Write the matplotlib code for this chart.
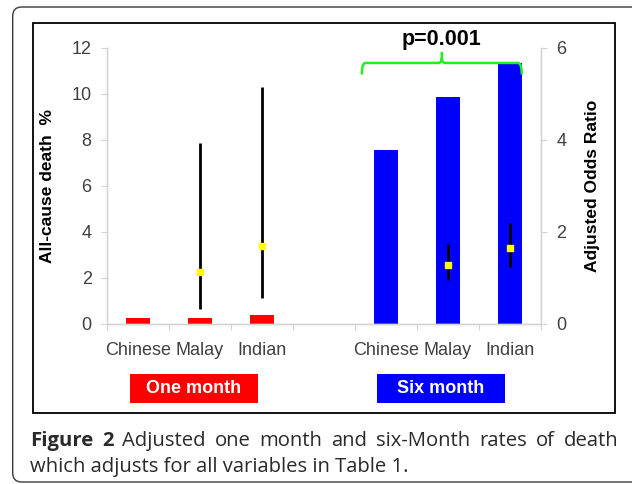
"""Adjusted one-month and six-month death rates by ethnic group (Figure 2 recreation)."""
import numpy as np
import matplotlib
matplotlib.use("Agg")
import matplotlib.pyplot as plt
from matplotlib.patches import Rectangle, FancyBboxPatch, PathPatch
from matplotlib.path import Path
from matplotlib.transforms import blended_transform_factory

plt.rcParams["font.family"] = ["Liberation Sans", "DejaVu Sans"]

# ---------------------------------------------------------------------------
# Data
# ---------------------------------------------------------------------------
CATEGORIES = ["Chinese", "Malay", "Indian", "", "Chinese", "Malay", "Indian"]
ONE_MONTH_POS = [0, 1, 2]
SIX_MONTH_POS = [4, 5, 6]
ONE_MONTH_RATE = [0.27, 0.27, 0.39]     # all-cause death %
SIX_MONTH_RATE = [7.57, 9.88, 11.35]

OR_ONE_POS = [1, 2]                     # adjusted odds ratios (Malay, Indian)
OR_ONE = [1.14, 1.70]
OR_ONE_LO = [0.33, 0.57]
OR_ONE_HI = [3.93, 5.15]
OR_SIX_POS = [5, 6]
OR_SIX = [1.28, 1.65]
OR_SIX_LO = [0.96, 1.24]
OR_SIX_HI = [1.74, 2.20]

P_TEXT = "p=0.001"
GROUP_LABELS = ["One month", "Six month"]
CAPTION_1 = [("Figure", True), ("2", True), ("Adjusted", False), ("one", False),
             ("month", False), ("and", False), ("six-Month", False), ("rates", False),
             ("of", False), ("death", False)]
CAPTION_2 = "which adjusts for all variables in Table 1."

RED = "#ff0000"
BLUE = "#0000ff"
GREEN = "#22ee22"
GRID_GRAY = "#d4d4d4"
TXT_GRAY = "#404040"

W, H = 632, 484
fig = plt.figure(figsize=(W / 100, H / 100), dpi=100)

# --- outer rounded frame + inner chart frame (pixel-ish, in inches) ---
fig.patches.append(FancyBboxPatch(
    (0.127, 0.02), 6.6, 4.75, boxstyle="round,pad=0,rounding_size=0.09",
    transform=fig.dpi_scale_trans, fc="none", ec="#3a3a3a", lw=1.0))
fig.patches.append(Rectangle(
    (0.33, 0.71), 5.82, 3.90, transform=fig.dpi_scale_trans,
    fc="none", ec="black", lw=1.3))

ax = fig.add_axes([107 / W, 1 - 324 / H, (541 - 107) / W, (324 - 48) / H])
ax2 = ax.twinx()

# --- bars (left axis) ---
ax.bar(ONE_MONTH_POS, ONE_MONTH_RATE, width=0.4, color=RED, zorder=2)
ax.bar(SIX_MONTH_POS, SIX_MONTH_RATE, width=0.4, color=BLUE, zorder=2)

ax.set_xlim(-0.5, 6.5)
ax.set_ylim(0, 12)
ax.set_yticks(np.arange(0, 13, 2))
ax2.set_ylim(0, 6)
ax2.set_yticks(np.arange(0, 7, 2))

# --- odds ratio whiskers (right axis) ---
for pos, mid, lo, hi in [(OR_ONE_POS, OR_ONE, OR_ONE_LO, OR_ONE_HI),
                         (OR_SIX_POS, OR_SIX, OR_SIX_LO, OR_SIX_HI)]:
    ax2.vlines(pos, lo, hi, color="black", lw=2.0, zorder=3)
    ax2.plot(pos, mid, ls="none", marker="s", ms=4.2, color="#ffff00",
             mec="#ffff00", zorder=4)

# --- axes styling ---
for a in (ax, ax2):
    a.spines["top"].set_visible(False)
    for s in ("left", "right", "bottom"):
        a.spines[s].set_color(GRID_GRAY)
        a.spines[s].set_linewidth(1.0)
ax.set_xticks(np.arange(-0.5, 7, 1))
ax.set_xticklabels([])
ax.set_xticks(np.arange(len(CATEGORIES)), minor=True)
ax.set_xticklabels(CATEGORIES, minor=True)
ax.tick_params(axis="x", which="major", length=4, color=GRID_GRAY, direction="out")
ax.tick_params(axis="x", which="minor", length=0, pad=13, labelsize=13, labelcolor=TXT_GRAY)
ax.tick_params(axis="y", length=4, color=GRID_GRAY, pad=7, labelsize=13, labelcolor=TXT_GRAY)
ax2.tick_params(axis="y", length=4, color=GRID_GRAY, pad=7, labelsize=13, labelcolor=TXT_GRAY)

ax.set_ylabel("All-cause death  %", fontsize=12.5, fontweight="bold")
ax.yaxis.set_label_coords((55 - 107) / (541 - 107), 0.5)
ax2.set_ylabel("Adjusted Odds Ratio", fontsize=12.5, fontweight="bold")
ax2.yaxis.set_label_coords((585 - 107) / (541 - 107), 0.5)

# --- significance bracket over six-month bars ---
x0, xm, x1 = 3.61, 4.90, 6.19
yb, ye, yt = 11.35, 10.85, 11.83
dx, dy = 0.06, 0.22
verts = [(x0, ye), (x0, yb), (x0 + dx, yb),
         (xm - dx, yb), (xm, yb), (xm, yb + dy), (xm, yt),
         (xm, yb + dy), (xm, yb), (xm + dx, yb),
         (x1 - dx, yb), (x1, yb), (x1, ye)]
codes = [Path.MOVETO, Path.CURVE3, Path.CURVE3,
         Path.LINETO, Path.CURVE3, Path.CURVE3, Path.LINETO,
         Path.MOVETO, Path.CURVE3, Path.CURVE3,
         Path.LINETO, Path.CURVE3, Path.CURVE3]
ax.add_patch(PathPatch(Path(verts, codes), fc="none", ec=GREEN, lw=1.8,
                       clip_on=False, zorder=5))
ax.text(xm, 12.39, P_TEXT, ha="center", va="center", fontsize=15.5,
        fontweight="bold", color="black", clip_on=False)

# --- group label boxes under the categories ---
btrans = blended_transform_factory(ax.transData, fig.transFigure)
for (xa, xb), label, col in [((-0.129, 1.935), GROUP_LABELS[0], RED),
                             ((3.855, 5.919), GROUP_LABELS[1], BLUE)]:
    fig.patches.append(Rectangle((xa, 1 - 403 / H), xb - xa, 29 / H,
                                 transform=btrans, fc=col, ec="none"))
    fig.text((xa + xb) / 2, 1 - 388.5 / H, label, transform=btrans,
             ha="center", va="center", color="white", fontsize=13,
             fontweight="bold")

# --- caption (first line justified) ---
cap_kw = dict(family=["Open Sans", "DejaVu Sans"], fontsize=14.6, color="#2a2a2a",
              transform=fig.dpi_scale_trans, va="baseline", ha="left")
renderer = fig.canvas.get_renderer()
words = [fig.text(0, (H - 446) / 100, w, fontweight="bold" if b else "normal", **cap_kw)
         for w, b in CAPTION_1]
widths = [t.get_window_extent(renderer).width / 100 for t in words]
left, right = 0.30, 6.18
gap = (right - left - sum(widths)) / (len(words) - 1)
x = left
for t, w in zip(words, widths):
    t.set_x(x)
    x += w + gap
fig.text(left, (H - 472) / 100, CAPTION_2, **cap_kw)

fig.savefig("out.png", dpi=100)
